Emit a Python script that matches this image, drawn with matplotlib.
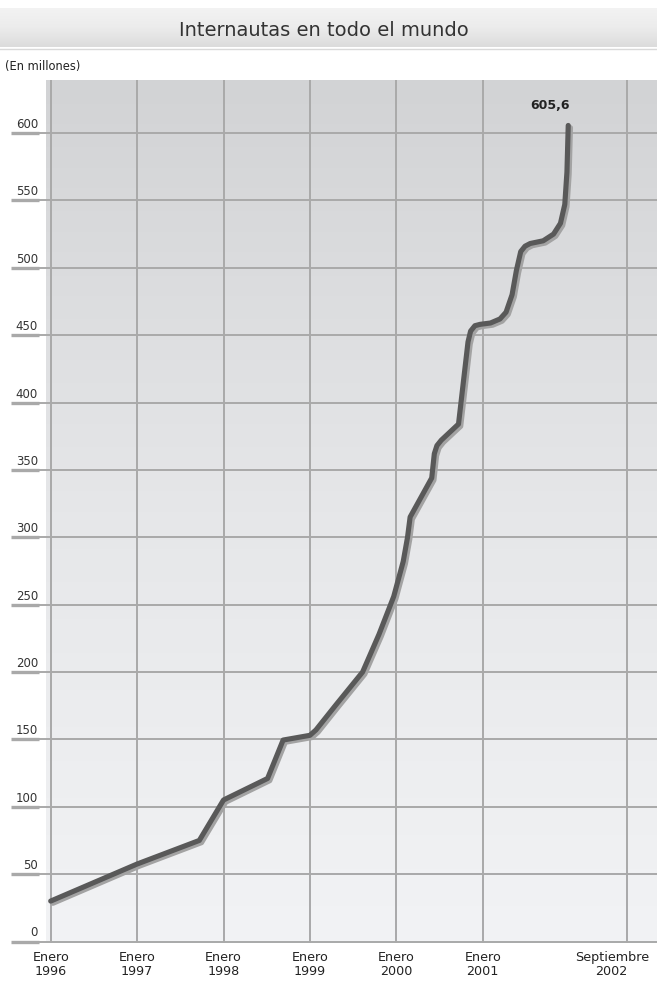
import numpy as np
import matplotlib
matplotlib.use("Agg")
import matplotlib.pyplot as plt
import matplotlib.patheffects as pe
from matplotlib.transforms import blended_transform_factory, ScaledTranslation
from matplotlib.colors import LinearSegmentedColormap

# ---- data ----
dates = [1996.0, 1997.0, 1997.72, 1998.0, 1998.51, 1998.69, 1999.0, 1999.07,
         1999.3, 1999.61, 1999.8, 1999.97, 2000.08, 2000.13, 2000.16, 2000.41,
         2000.44, 2000.47, 2000.52, 2000.72, 2000.83, 2000.86, 2000.91, 2000.97,
         2001.09, 2001.2, 2001.27, 2001.34, 2001.39, 2001.44, 2001.49, 2001.55,
         2001.7, 2001.82, 2001.9, 2001.95, 2001.975, 2001.99]
values = [30, 57.5, 75, 105, 121, 149.5, 153, 157,
          175.5, 200, 228, 256, 282, 300, 315, 344,
          362, 368, 372, 384, 445, 453, 457, 458,
          459, 462, 467, 480, 498, 512, 516, 518,
          520, 525, 533, 547, 571, 605.6]
last_label = "605,6"

x_ticks = [1996, 1997, 1998, 1999, 2000, 2001, 2002.667]
x_labels = ["Enero\n1996", "Enero\n1997", "Enero\n1998", "Enero\n1999",
            "Enero\n2000", "Enero\n2001", "Septiembre\n2002"]
y_ticks = [0, 50, 100, 150, 200, 250, 300, 350, 400, 450, 500, 550, 600]

title = "Internautas en todo el mundo"
unit_label = "(En millones)"

# ---- figure ----
W, H = 657, 984
fig = plt.figure(figsize=(W / 100, H / 100), dpi=100)
fig.patch.set_facecolor("white")

# title band
band = fig.add_axes([0, 1 - 47 / H, 1, 39 / H])
band.set_axis_off()
bcmap = LinearSegmentedColormap.from_list("b", ["#dcdcdc", "#ececec", "#f3f3f3"])
band.imshow(np.linspace(0, 1, 100).reshape(-1, 1), cmap=bcmap, aspect="auto",
            extent=[0, 1, 0, 1], origin="lower")
band.set_xlim(0, 1)
band.set_ylim(0, 1)
fig.add_artist(plt.Line2D([0, 1], [1 - 49 / H, 1 - 49 / H], color="#d9d9d9",
                          lw=1.0, transform=fig.transFigure))
fig.text(324 / W, 1 - 30 / H, title, ha="center", va="center",
         fontsize=14, color="#333333", family="DejaVu Sans")
fig.text(5 / W, 1 - 66 / H, unit_label, ha="left", va="center",
         fontsize=8.3, color="#222222", family="DejaVu Sans")

# main axes
left_px, right_px, top_px, bot_px = 46, 657, 80, 943
ax = fig.add_axes([left_px / W, 1 - bot_px / H, (right_px - left_px) / W,
                   (bot_px - top_px) / H])
year_px = 86.4
x0_px = 50.7
ax.set_xlim(1996 - (x0_px - left_px) / year_px, 1996 + (right_px - x0_px) / year_px)
px_per_unit = 1.3475
zero_px = 941.5
ax.set_ylim(-(bot_px - zero_px) / px_per_unit, (zero_px - top_px) / px_per_unit)

gcmap = LinearSegmentedColormap.from_list("g", ["#f2f3f5", "#e6e7e9", "#d2d3d5"])
ax.imshow(np.linspace(0, 1, 256).reshape(-1, 1), cmap=gcmap, aspect="auto",
          extent=[0, 1, 0, 1], origin="lower", transform=ax.transAxes, zorder=0)

for s in ax.spines.values():
    s.set_visible(False)

grid_c = "#a9a9a9"
for v in y_ticks:
    ax.axhline(v, color=grid_c, lw=1.4, zorder=1)
for xv in x_ticks:
    ax.axvline(xv, color=grid_c, lw=1.4, zorder=1)

blend = blended_transform_factory(ax.transAxes, ax.transData)
aw = right_px - left_px
for v in y_ticks:
    ax.plot([(11 - left_px) / aw, (39 - left_px) / aw], [v, v], transform=blend,
            clip_on=False, color=grid_c, lw=2.4, solid_capstyle="butt")
    ax.plot([(39 - left_px) / aw, 0], [v, v], transform=blend,
            clip_on=False, color=grid_c, lw=1.4, solid_capstyle="butt")
    ax.annotate(str(v), xy=((38 - left_px) / aw, v), xycoords=blend,
                xytext=(0, 2), textcoords="offset pixels", ha="right",
                va="bottom", fontsize=8.5, color="#333333", annotation_clip=False)

ax.set_yticks([])
ax.set_xticks(x_ticks)
ax.set_xticklabels(x_labels, fontsize=9.2, color="#222222", linespacing=1.05)
ax.tick_params(axis="x", length=0, pad=6)
lab = ax.get_xticklabels()[-1]
lab.set_transform(lab.get_transform() + ScaledTranslation(-15 / 100, 0, fig.dpi_scale_trans))

# data line with shadow
ax.plot(dates, values, color="#595959", lw=3.7, solid_joinstyle="round",
        solid_capstyle="round", zorder=4,
        path_effects=[pe.SimpleLineShadow(offset=(1.6, -1.6),
                                          shadow_color="#a3a3a3", alpha=1.0),
                      pe.Normal()])

ax.annotate(last_label, xy=(dates[-1], values[-1]), xytext=(2, 16),
            textcoords="offset pixels", ha="right", va="baseline",
            fontsize=9, fontweight="bold", color="#222222")

fig.savefig("out.png", dpi=100)
